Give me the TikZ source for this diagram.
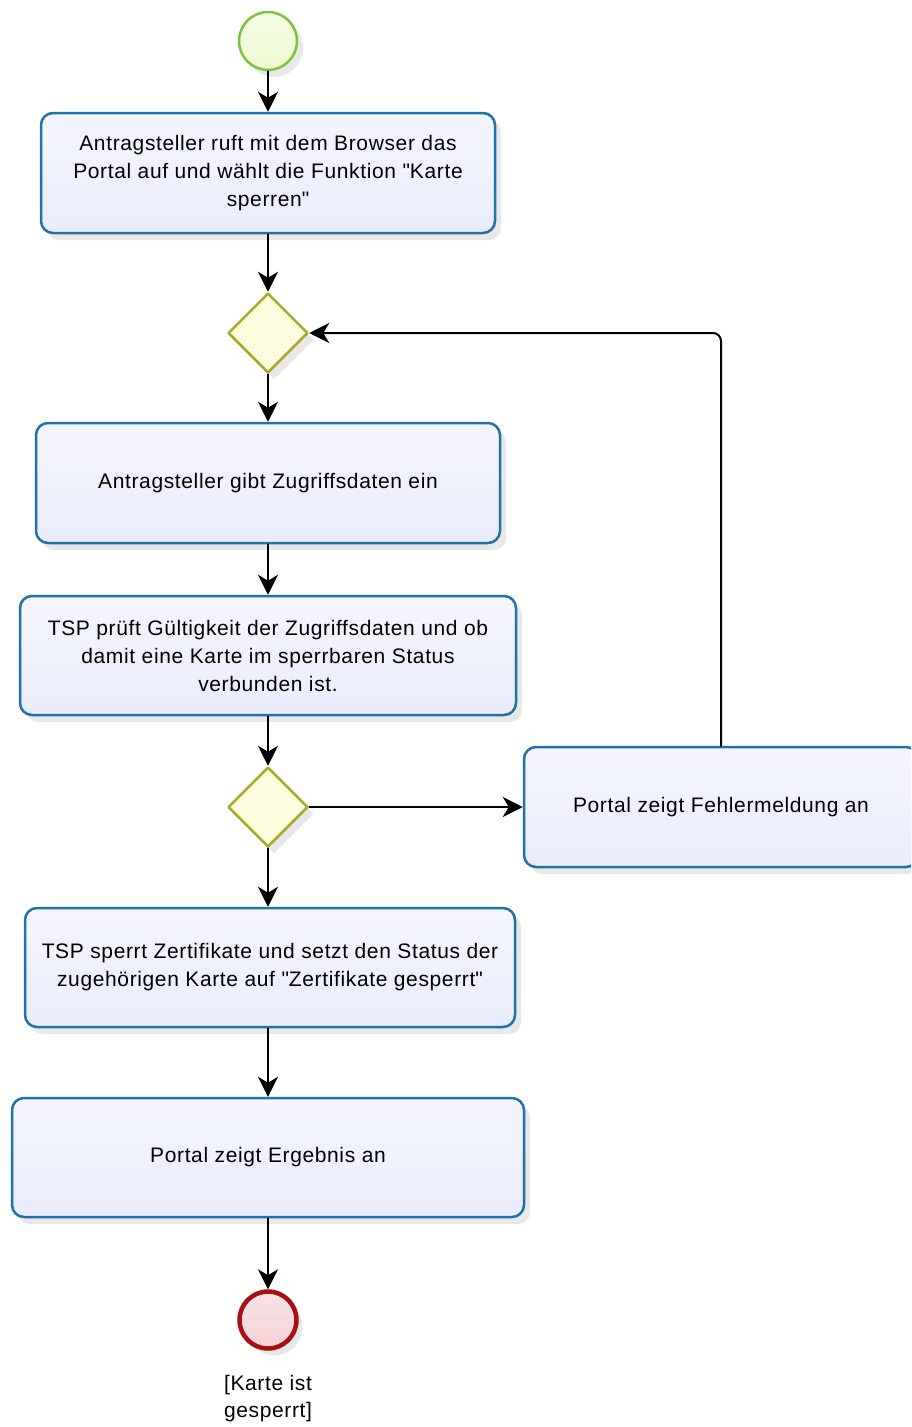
\documentclass[tikz,border=0pt]{standalone}
\usepackage{fontspec}
\setmainfont[LetterSpace=3]{Liberation Sans}
\usetikzlibrary{arrows.meta,shapes.geometric,shadows}
\definecolor{taskline}{HTML}{2371A8}
\definecolor{taskfill}{HTML}{E9ECFB}
\definecolor{gateline}{HTML}{A9A92C}
\definecolor{gatefill}{HTML}{FCFCDC}
\definecolor{startline}{HTML}{7DC242}
\definecolor{startfill}{HTML}{EEFAD2}
\definecolor{endline}{HTML}{A80F14}
\definecolor{endfill}{HTML}{F4D2D5}
\tikzset{
  softshadow/.style={drop shadow={shadow xshift=6pt,shadow yshift=-7pt,opacity=.18}},
  task/.style={draw=taskline,line width=2.5pt,rounded corners=12pt,top color=white!50!taskfill,bottom color=taskfill,align=center,inner sep=0pt,font=\fontsize{21}{28}\selectfont,softshadow},
  gateway/.style={diamond,aspect=1,draw=gateline,line width=2.5pt,fill=gatefill,minimum size=80pt,inner sep=0pt,softshadow},
  startev/.style={circle,draw=startline,line width=2.5pt,top color=white!40!startfill,bottom color=startfill,minimum size=58pt,inner sep=0pt,softshadow},
  endev/.style={circle,draw=endline,line width=4.5pt,top color=white!40!endfill,bottom color=endfill,minimum size=57pt,inner sep=0pt,softshadow},
  flow/.style={-{Stealth[length=20pt,width=20pt,inset=6pt]},line width=2pt}
}
\begin{document}
\begin{tikzpicture}[x=1pt,y=-1pt,line cap=round,line join=round]
\clip (0,0) rectangle (911,1427);
% events and gateways
\node[startev] (start) at (268,41) {};
\node[task,minimum width=454pt,minimum height=120pt] (open) at (268,173) {Antragsteller ruft mit dem Browser das\\Portal auf und wählt die Funktion \textquotedbl Karte\\sperren\textquotedbl};
\node[gateway] (gw1) at (268,333) {};
\node[task,minimum width=464pt,minimum height=120pt] (enter) at (268,483) {Antragsteller gibt Zugriffsdaten ein};
\node[task,minimum width=496pt,minimum height=119pt] (check) at (268,655.5) {TSP prüft Gültigkeit der Zugriffsdaten und ob\\damit eine Karte im sperrbaren Status\\verbunden ist.};
\node[gateway] (gw2) at (268,807) {};
\node[task,minimum width=394pt,minimum height=120pt] (err) at (721,807) {Portal zeigt Fehlermeldung an};
\node[task,minimum width=490pt,minimum height=119pt] (lock) at (270,967.5) {TSP sperrt Zertifikate und setzt den Status der\\zugehörigen Karte auf \textquotedbl Zertifikate gesperrt\textquotedbl};
\node[task,minimum width=512pt,minimum height=119pt] (result) at (268,1157.5) {Portal zeigt Ergebnis an};
\node[endev] (stop) at (268,1320) {};
\node[align=center,font=\fontsize{21}{27}\selectfont] (stoplbl) at (268,1399) {[Karte ist\\gesperrt]};
% sequence flows
\draw[flow] (start) -- (open);
\draw[flow] (open) -- (gw1);
\draw[flow] (gw1) -- (enter);
\draw[flow] (enter) -- (check);
\draw[flow] (check) -- (gw2);
\draw[flow] (gw2.south) -- (gw2.south |- lock.north);
\draw[flow] (lock.south -| result) -- (result);
\draw[flow] (result) -- (stop);
\draw[flow] (gw2.east) -- (err.west);
\draw[flow,rounded corners=8pt] (err.north) |- (gw1.east);
\end{tikzpicture}
\end{document}
